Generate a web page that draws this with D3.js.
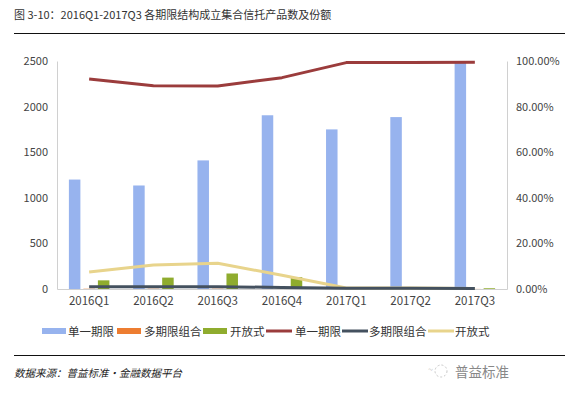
<!DOCTYPE html>
<html><head><meta charset="utf-8">
<script src="https://cdn.jsdelivr.net/npm/d3@7"></script>
<style>
body{margin:0;background:#fff;}
svg{display:block;font-family:"Noto Sans CJK SC","Noto Sans",sans-serif;}
</style></head>
<body><svg id="c" width="573" height="395"></svg>
<script>
const categories = ["2016Q1","2016Q2","2016Q3","2016Q4","2017Q1","2017Q2","2017Q3"];
const countSingle = [1200,1135,1410,1905,1750,1885,2480];
const countMulti  = [3,3,3,2,1,1,1];
const countOpen   = [95,125,170,130,3,5,8];
const shareSingle = [0.921,0.891,0.890,0.927,0.993,0.993,0.994];
const shareMulti  = [0.010,0.010,0.010,0.007,0.003,0.003,0.002];
const shareOpen   = [0.075,0.105,0.113,0.060,0.004,0.004,0.002];
const leftTicks  = [0,500,1000,1500,2000,2500];
const rightTicks = [0,0.2,0.4,0.6,0.8,1.0];
const seriesNames = ["单一期限","多期限组合","开放式"];
const barColors  = ["#97b3ee","#ed7d31","#8fac2e"];
const lineColors = ["#9b3c3c","#44515f","#e8d48c"];

const svg = d3.select("#c");
const L=57, R=507, T=61, B=289;

svg.append("text").attr("x",14).attr("y",19).attr("font-size",11).attr("fill","#333")
  .text("图 3-10：2016Q1-2017Q3 各期限结构成立集合信托产品数及份额");
svg.append("line").attr("x1",14).attr("x2",565).attr("y1",33.5).attr("y2",33.5).attr("stroke","#111").attr("stroke-width",1);

const x = d3.scaleBand().domain(categories).range([L,R]).padding(0);
const yL = d3.scaleLinear().domain([0,2500]).range([B,T]);
const yR = d3.scaleLinear().domain([0,1]).range([B,T]);
const sub = d3.scaleBand().domain([0,1,2]).range([0, x.bandwidth()]).paddingInner(0.207).paddingOuter(0.82);

// axes
const axL = svg.append("g").attr("transform",`translate(${L},0)`)
  .call(d3.axisLeft(yL).tickValues(leftTicks).tickSize(0).tickPadding(9).tickFormat(d3.format("d")));
const axR = svg.append("g").attr("transform",`translate(${R},0)`)
  .call(d3.axisRight(yR).tickValues(rightTicks).tickSize(0).tickPadding(9).tickFormat(d=>(d*100).toFixed(2)+"%"));
const axB = svg.append("g").attr("transform",`translate(0,${B})`)
  .call(d3.axisBottom(x).tickSize(0).tickPadding(8));
[axL,axR,axB].forEach(a=>{
  a.selectAll("text").attr("font-size",11).attr("fill","#444").attr("font-family","\"Noto Sans CJK SC\",sans-serif");
  a.select(".domain").attr("stroke","#d0d0d0");
});
axB.selectAll("text").attr("font-size",11.5);

// bars
const barData = [countSingle,countMulti,countOpen];
barData.forEach((arr,si)=>{
  svg.append("g").selectAll("rect").data(arr).join("rect")
    .attr("x",(d,i)=>x(categories[i])+sub(si))
    .attr("width",sub.bandwidth())
    .attr("y",d=>yL(d))
    .attr("height",d=>B-yL(d))
    .attr("fill",barColors[si]);
});

// lines
const lineData = [shareSingle,shareMulti,shareOpen];
const drawOrder=[2,1,0];
drawOrder.forEach(si=>{
  const arr=lineData[si];
  const line = d3.line().x((d,i)=>x(categories[i])+x.bandwidth()/2).y(d=>yR(d));
  svg.append("path").datum(arr).attr("d",line).attr("fill","none")
    .attr("stroke",lineColors[si]).attr("stroke-width",3).attr("stroke-linejoin","round");
});

// legend
const lg = svg.append("g");
const items = [
  {t:"bar",c:barColors[0],n:seriesNames[0],x:42,tx:68},
  {t:"bar",c:barColors[1],n:seriesNames[1],x:117,tx:144},
  {t:"bar",c:barColors[2],n:seriesNames[2],x:203,tx:230},
  {t:"line",c:lineColors[0],n:seriesNames[0],x:266,tx:295},
  {t:"line",c:lineColors[1],n:seriesNames[1],x:342,tx:369},
  {t:"line",c:lineColors[2],n:seriesNames[2],x:428,tx:455}
];
items.forEach(it=>{
  if(it.t==="bar") lg.append("rect").attr("x",it.x).attr("y",328).attr("width",24).attr("height",6).attr("fill",it.c);
  else lg.append("line").attr("x1",it.x).attr("x2",it.x+26).attr("y1",331).attr("y2",331).attr("stroke",it.c).attr("stroke-width",3);
  lg.append("text").attr("x",it.tx).attr("y",336).attr("font-size",11.5).attr("fill","#333").text(it.n);
});

svg.append("line").attr("x1",14).attr("x2",565).attr("y1",355.5).attr("y2",355.5).attr("stroke","#111").attr("stroke-width",1);
svg.append("text").attr("x",14).attr("y",377).attr("font-size",10.5).attr("font-style","italic")
  .attr("fill","#222").text("数据来源：普益标准·金融数据平台");

// watermark
const wm = svg.append("g").attr("opacity",0.55);
wm.append("circle").attr("cx",441).attr("cy",371).attr("r",6).attr("fill","none").attr("stroke","#999").attr("stroke-dasharray","2,2");
wm.append("text").attr("x",428).attr("y",373).attr("font-size",9).attr("fill","#999").text("~");
svg.append("text").attr("x",455).attr("y",377).attr("font-size",13.5).attr("fill","#888").text("普益标准");
</script></body></html>
